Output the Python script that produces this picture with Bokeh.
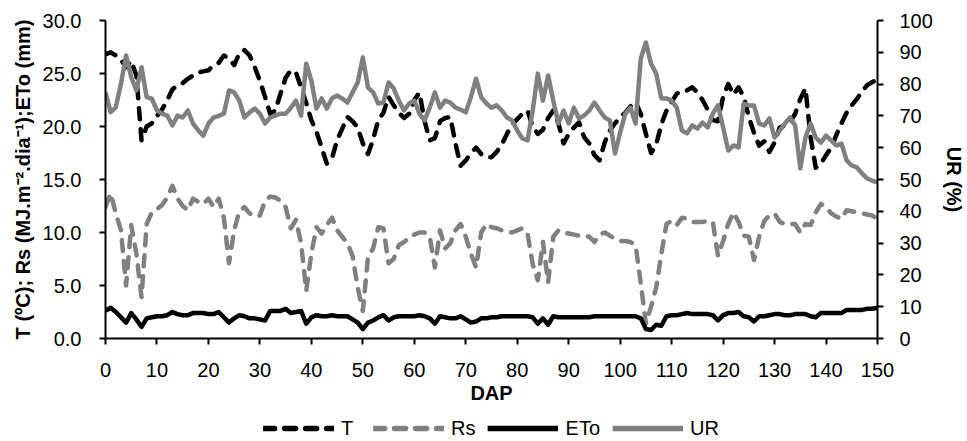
from bokeh.plotting import figure
from bokeh.models import Range1d, LinearAxis, FixedTicker, NumeralTickFormatter, Legend, LegendItem
from bokeh.layouts import column
from bokeh.embed import file_html
from bokeh.resources import INLINE

days = list(range(151))

T = [26.8, 27.0, 26.7, 26.3, 25.6, 26.2, 24.8, 18.7, 20.0, 20.3,
     21.0, 21.6, 22.5, 23.5, 23.9, 24.1, 24.5, 24.8, 25.1, 25.2,
     25.3, 25.8, 26.0, 26.7, 26.4, 25.8, 26.9, 27.2, 26.7, 25.6,
     24.3, 22.8, 21.2, 21.5, 23.1, 24.6, 25.3, 25.1, 23.7, 22.2,
     20.6, 19.5, 18.0, 16.5, 17.0, 18.7, 19.8, 20.9, 20.5, 19.9,
     18.4, 17.4, 18.8, 20.6, 21.3, 22.8, 22.0, 21.3, 20.8, 21.2,
     22.5, 23.2, 20.5, 18.7, 18.9, 20.5, 20.8, 20.9, 18.4, 16.3,
     16.8, 17.5, 18.0, 17.4, 17.1, 17.1, 17.6, 18.3, 19.3, 20.2,
     20.7, 21.2, 21.5, 20.0, 19.3, 19.7, 20.8, 21.5, 20.3, 18.4,
     19.3, 19.9, 20.4, 19.0, 18.4, 17.3, 16.8, 18.5, 19.6, 20.3,
     20.9, 21.3, 21.9, 22.3, 21.2, 19.3, 17.5, 18.3, 20.2, 21.5,
     22.3, 23.1, 23.4, 23.4, 23.7, 23.2, 22.5, 21.6, 20.6, 20.5,
     22.8, 24.0, 23.0, 23.7, 22.8, 20.9, 19.4, 18.2, 18.6, 17.6,
     18.5, 19.9, 20.1, 20.4, 21.2, 22.6, 23.6, 19.0, 16.1, 16.5,
     17.3, 18.0, 19.2, 20.3, 21.3, 22.0, 22.6, 23.3, 23.9, 24.2,
     24.4]

Rs = [12.4, 13.7, 11.8, 10.2, 5.0, 10.7, 8.0, 3.9, 10.8, 11.9,
      12.2, 12.6, 13.3, 14.4, 13.2, 12.5, 12.1, 13.2, 12.9, 12.7,
      13.2, 12.4, 13.2, 11.4, 7.1, 10.2, 12.0, 12.4, 11.8, 11.5,
      11.6, 13.0, 13.4, 13.3, 13.0, 12.4, 10.4, 11.2, 9.0, 4.5,
      8.0, 10.5, 9.9, 10.7, 11.4, 10.2, 9.6, 9.0, 7.8, 4.8,
      2.6, 7.7, 8.5, 10.5, 10.4, 7.1, 7.5, 8.8, 9.1, 9.5,
      9.8, 10.0, 10.0, 9.6, 6.7, 10.2, 8.5, 9.0, 10.2, 10.8,
      9.6, 8.0, 6.7, 10.0, 10.8, 10.5, 10.4, 10.2, 10.1, 10.0,
      10.2, 10.4, 9.9, 7.0, 5.5, 9.1, 5.3, 9.6, 10.2, 10.0,
      9.9, 9.8, 9.7, 9.7, 9.6, 9.1, 9.8, 10.0, 9.7, 9.4,
      9.2, 9.2, 9.1, 8.8, 5.2, 1.4, 3.0, 4.8, 8.0, 10.8,
      11.1, 10.7, 11.4, 11.3, 11.0, 11.0, 11.0, 11.1, 11.0, 7.8,
      9.2, 10.8, 11.9, 11.0, 9.7, 9.6, 7.4, 9.6, 11.1, 11.6,
      11.8, 11.0, 10.8, 10.8, 10.8, 10.0, 10.8, 10.7, 11.9, 12.7,
      12.4, 11.8, 11.5, 11.3, 12.1, 12.0, 11.9, 11.8, 11.7, 11.6,
      11.3]

ETo = [2.6, 2.9, 2.5, 2.0, 1.5, 2.4, 1.8, 1.1, 1.9, 2.0,
       2.1, 2.1, 2.2, 2.5, 2.3, 2.2, 2.2, 2.4, 2.4, 2.4,
       2.3, 2.3, 2.5, 2.0, 1.5, 1.9, 2.2, 2.1, 1.9, 1.9,
       1.8, 1.7, 2.6, 2.6, 2.6, 2.8, 2.4, 2.5, 2.6, 1.4,
       2.0, 2.2, 2.1, 2.1, 2.2, 2.1, 2.1, 2.1, 1.8, 1.5,
       0.9, 1.5, 1.7, 2.0, 2.2, 1.7, 2.0, 2.1, 2.1, 2.1,
       2.1, 2.2, 2.1, 1.9, 1.4, 2.1, 2.0, 1.9, 1.9, 2.1,
       1.8, 1.5, 1.6, 1.9, 1.9, 2.0, 2.0, 2.1, 2.1, 2.1,
       2.1, 2.1, 2.1, 2.0, 1.4, 1.9, 1.3, 2.1, 2.0, 2.0,
       2.0, 2.0, 2.0, 2.0, 2.0, 2.1, 2.1, 2.1, 2.1, 2.1,
       2.1, 2.1, 2.1, 2.1, 1.9, 0.9, 0.8, 1.3, 1.2, 2.1,
       2.2, 2.2, 2.3, 2.4, 2.3, 2.3, 2.3, 2.3, 2.2, 1.7,
       2.2, 2.4, 2.4, 2.5, 2.1, 2.0, 1.6, 2.1, 2.1, 2.2,
       2.3, 2.3, 2.2, 2.2, 2.3, 2.3, 2.3, 2.1, 2.0, 2.4,
       2.4, 2.4, 2.4, 2.4, 2.7, 2.7, 2.7, 2.7, 2.8, 2.8,
       2.9]

UR = [77.4, 71.2, 72.7, 80.1, 89.0, 82.2, 78.0, 85.3, 75.9, 75.4,
      71.7, 70.7, 70.1, 67.0, 70.1, 69.5, 71.7, 67.6, 65.5, 63.8,
      67.6, 69.5, 70.0, 70.7, 78.0, 77.4, 74.8, 69.5, 71.1, 72.3,
      70.7, 67.6, 69.5, 70.1, 70.7, 70.7, 72.5, 74.8, 70.1, 86.4,
      81.1, 72.3, 75.5, 72.3, 75.5, 76.4, 75.5, 74.2, 77.4, 80.5,
      88.4, 79.0, 77.4, 73.9, 74.2, 80.5, 78.6, 74.8, 71.7, 73.9,
      74.8, 70.7, 68.6, 72.6, 77.4, 72.6, 74.8, 74.2, 72.6, 72.0,
      71.1, 75.9, 81.7, 75.9, 73.9, 72.6, 73.3, 71.7, 69.5, 68.6,
      65.4, 62.9, 62.3, 71.7, 83.3, 74.8, 82.7, 74.8, 67.6, 71.7,
      67.6, 72.6, 69.2, 70.1, 71.7, 74.2, 71.7, 69.5, 68.6, 58.2,
      64.8, 70.7, 72.6, 67.6, 88.0, 93.1, 86.4, 83.3, 75.5, 75.5,
      74.8, 72.6, 65.4, 64.5, 67.0, 66.0, 67.9, 66.4, 70.7, 73.3,
      66.4, 59.1, 60.7, 60.1, 73.9, 73.3, 73.3, 67.6, 67.0, 69.2,
      63.2, 65.4, 67.6, 69.5, 67.0, 53.5, 63.2, 67.6, 63.2, 61.6,
      63.8, 62.3, 60.7, 61.3, 56.0, 54.4, 53.8, 51.9, 50.3, 49.6,
      49.1]

series_names = ["T", "Rs", "ETo", "UR"]
x_ticks = list(range(0, 151, 10))
left_ticks = [0, 5, 10, 15, 20, 25, 30]
right_ticks = list(range(0, 101, 10))

FONT = "Liberation Sans"
BLACK = "#000000"
GRAY = "#808080"
LW = 4.5
DASH = "11 10"
styles = [dict(line_color=BLACK, line_dash=DASH, line_cap="round"),
          dict(line_color=GRAY, line_dash=DASH, line_cap="round"),
          dict(line_color=BLACK),
          dict(line_color=GRAY)]
values = [T, Rs, ETo, UR]

p = figure(width=967, height=414, output_backend="svg", toolbar_location=None,
           x_range=Range1d(0, 150), y_range=Range1d(0, 30),
           min_border_left=105, min_border_right=84, min_border_top=20,
           min_border_bottom=76)
p.extra_y_ranges = {"ur": Range1d(0, 100)}
p.outline_line_color = None
p.grid.visible = False
p.background_fill_color = "white"
p.border_fill_color = "white"

for i, (vals, st) in enumerate(zip(values, styles)):
    kw = dict(st)
    if i == 3:
        kw["y_range_name"] = "ur"
    p.line(days, vals, line_width=LW, line_join="round", **kw)

def style(ax):
    ax.axis_line_color = BLACK
    ax.axis_line_width = 2
    ax.major_tick_line_color = BLACK
    ax.major_tick_line_width = 2
    ax.major_tick_in = 0
    ax.major_tick_out = 6
    ax.minor_tick_line_color = None
    ax.major_label_text_font = FONT
    ax.major_label_text_font_size = "20px"
    ax.major_label_text_color = BLACK
    ax.axis_label_text_font = FONT
    ax.axis_label_text_font_size = "20px"
    ax.axis_label_text_font_style = "bold"
    ax.axis_label_text_color = BLACK

xa = p.xaxis[0]
style(xa)
xa.ticker = FixedTicker(ticks=x_ticks)
xa.axis_label = "DAP"
xa.major_label_standoff = 18
xa.axis_label_standoff = 2

ya = p.yaxis[0]
style(ya)
ya.ticker = FixedTicker(ticks=left_ticks)
ya.formatter = NumeralTickFormatter(format="0.0")
ya.axis_label = "T (ºC); Rs (MJ.m⁻².dia⁻¹);ETo (mm)"
ya.major_label_standoff = 18
ya.axis_label_standoff = 6

ra = LinearAxis(y_range_name="ur", ticker=FixedTicker(ticks=right_ticks), axis_label="UR (%)")
style(ra)
ra.major_label_standoff = 16
ra.axis_label_standoff = 7
p.add_layout(ra, "right")

# legend strip below the chart (its lines lie outside its ranges, only the legend shows)
pl = figure(width=967, height=27, output_backend="svg", toolbar_location=None,
            x_range=Range1d(-20, -10), y_range=Range1d(-20, -10),
            x_axis_location=None, y_axis_location=None,
            min_border_left=105, min_border_right=84, min_border_top=0, min_border_bottom=0)
pl.outline_line_color = None
pl.grid.visible = False
pl.border_fill_color = "white"
pl.background_fill_color = "white"
leg_r = []
for vals, st in zip(values, styles):
    leg_r.append(pl.line(days, vals, line_width=LW + 1, **st))

legend = Legend(items=[LegendItem(label=n, renderers=[r]) for n, r in zip(series_names, leg_r)],
                orientation="horizontal", location="center")
legend.glyph_width = 71
legend.glyph_height = 15
legend.label_height = 15
legend.label_standoff = 7
legend.spacing = 12
legend.padding = 0
legend.margin = 0
legend.border_line_color = None
legend.background_fill_alpha = 0
legend.label_text_font = FONT
legend.label_text_font_size = "20px"
legend.label_text_color = BLACK
pl.add_layout(legend, "center")

layout = column(p, pl, spacing=0)
open("out.html", "w").write(file_html(layout, INLINE))
